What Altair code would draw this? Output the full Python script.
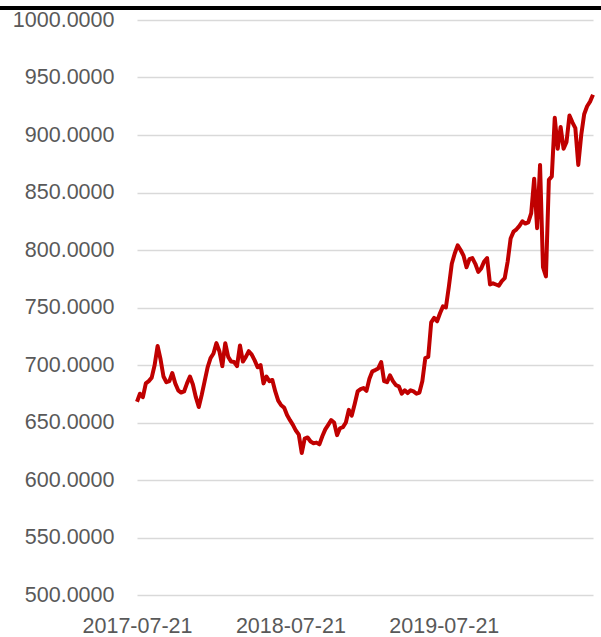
import altair as alt
import pandas as pd

# Weekly closing values (first week 2017-07-21)
values = [
    668, 675, 672, 684, 686, 689, 700, 716.5, 705, 690,
    685, 686, 693, 684, 678, 676, 677, 684, 690, 683,
    672, 663.5, 674, 686, 698, 706, 710, 719, 712, 699,
    719, 707, 703, 702.6, 699, 717, 703, 707, 712, 709,
    704, 698, 700, 684, 690, 686, 687, 677, 669, 665,
    663, 656.5, 652, 648, 643, 639.5, 623.5, 636, 637, 633.5,
    632, 632.5, 631, 638, 644, 648, 652, 650, 639, 645,
    646, 650, 661, 656, 666, 677, 679, 680, 677.5, 688,
    694.5, 695.6, 697, 702.6, 686, 685, 691, 686, 682.5, 681.5,
    675, 678, 675.6, 678, 677, 675, 676, 686, 706, 707,
    737, 741, 738, 745, 751, 750, 768, 788, 797, 804,
    800, 795, 785, 792, 793, 788, 781, 784, 790, 793,
    770, 771, 770, 769, 773, 775.6, 790, 810, 816, 818,
    821, 825, 823, 824, 832, 862, 819, 874, 785, 777,
    861, 864, 915, 888, 907, 888, 894, 917, 911, 906,
    874, 900, 918, 925, 929, 935,
]
dates = pd.date_range("2017-07-21", periods=len(values), freq="7D").strftime("%Y-%m-%d").tolist()
x_tick_dates = ["2017-07-21", "2018-07-21", "2019-07-21"]
y_ticks = [500, 550, 600, 650, 700, 750, 800, 850, 900, 950, 1000]

df = pd.DataFrame({"date": dates, "value": values})


def dt(s):
    y, m, d = (int(p) for p in s.split("-"))
    return alt.DateTime(year=y, month=m, date=d, utc=True)


FONT = "Liberation Sans"
LABEL_COLOR = "#595959"

line = alt.Chart(df).mark_line(color="#C00000", strokeWidth=4, strokeJoin="round").encode(
    x=alt.X(
        "date:T",
        scale=alt.Scale(type="utc", domain=[dt(dates[0]), dt(dates[-1])]),
        axis=alt.Axis(
            values=[dt(s) for s in x_tick_dates],
            labelExpr="utcFormat(datum.value, '%Y-%m-%d')",
            grid=False,
            domain=False,
            ticks=False,
            tickSize=0,
            labelFlush=False,
            labelOverlap=False,
            labelFont=FONT,
            labelFontSize=21.5,
            labelColor=LABEL_COLOR,
            labelPadding=20,
            title=None,
        ),
    ),
    y=alt.Y(
        "value:Q",
        scale=alt.Scale(domain=[500, 1000], nice=False, zero=False),
        axis=alt.Axis(
            values=y_ticks,
            format=".4f",
            grid=True,
            gridColor="#D9D9D9",
            gridWidth=1.5,
            domain=False,
            ticks=False,
            tickSize=0,
            labelFont=FONT,
            labelFontSize=21.5,
            labelColor=LABEL_COLOR,
            labelPadding=23,
            title=None,
        ),
    ),
)

top_border = alt.Chart(pd.DataFrame({"k": [0]})).mark_rule(color="black", strokeWidth=4).encode(
    x=alt.value(-137), x2=alt.value(464), y=alt.value(-12)
)

chart = (
    alt.layer(line, top_border)
    .properties(
        width=456,
        height=575,
        autosize=alt.AutoSizeParams(type="none"),
        padding={"left": 137, "top": 20, "right": 8, "bottom": 42},
        background="white",
    )
    .configure_view(stroke=None)
)

chart.save("out.html", embed_options={"renderer": "svg", "actions": False})
